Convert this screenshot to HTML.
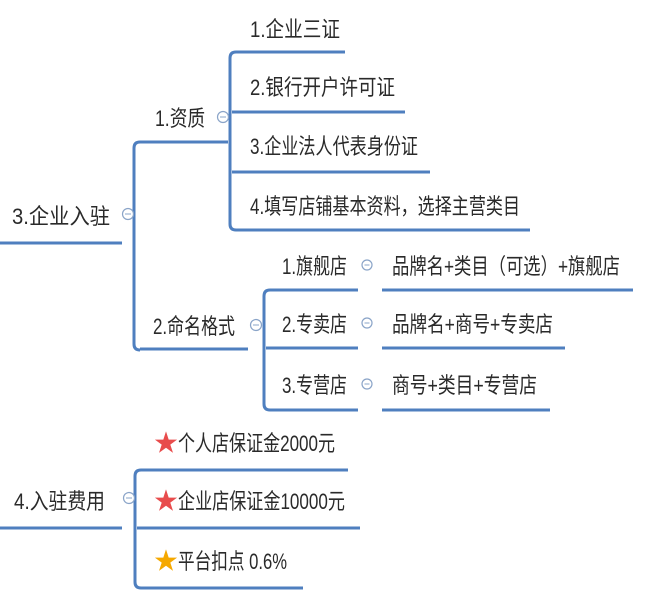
<!DOCTYPE html>
<html><head><meta charset="utf-8"><style>
body{margin:0;background:#fff;}
svg text{font-family:"Liberation Sans","Noto Sans CJK SC",sans-serif;font-size:22px;fill:#2a2a2a;}
</style></head><body>
<svg width="650" height="600" viewBox="0 0 650 600" xmlns="http://www.w3.org/2000/svg">
<g stroke="#4f7fbf" stroke-width="3" fill="none">
<line x1="0" y1="243" x2="122" y2="243"/>
<path d="M140 142 Q134 142 134 148 V344 Q134 350 140 350"/>
<line x1="140" y1="142" x2="228" y2="142"/>
<line x1="140" y1="349" x2="248" y2="349"/>
<path d="M236 52 Q230 52 230 58 V224 Q230 230 236 230"/>
<line x1="236" y1="52" x2="345" y2="52"/>
<line x1="232" y1="112" x2="405" y2="112"/>
<line x1="232" y1="172" x2="430" y2="172"/>
<line x1="236" y1="230" x2="530" y2="230"/>
<path d="M270 290 Q264 290 264 296 V404 Q264 410 270 410"/>
<line x1="270" y1="290" x2="358" y2="290"/><line x1="382" y1="290" x2="633" y2="290"/>
<line x1="266" y1="348" x2="358" y2="348"/><line x1="382" y1="348" x2="565" y2="348"/>
<line x1="270" y1="410" x2="358" y2="410"/><line x1="382" y1="410" x2="550" y2="410"/>
<line x1="0" y1="528" x2="122" y2="528"/>
<path d="M141 470 Q135 470 135 476 V582 Q135 588 141 588"/>
<line x1="141" y1="470" x2="348" y2="470"/>
<line x1="137" y1="528" x2="360" y2="528"/>
<line x1="141" y1="588" x2="303" y2="588"/>
</g>
<g stroke="#8aa4c8" stroke-width="1.2" fill="#fff">
<circle cx="128" cy="214" r="5.5"/><circle cx="223" cy="117" r="5.5"/><circle cx="256" cy="325" r="5.5"/>
<circle cx="367" cy="265" r="5"/><circle cx="367" cy="323" r="5"/><circle cx="367" cy="384" r="5"/>
<circle cx="129" cy="498" r="5.5"/>
</g>
<g stroke="#8aa4c8" stroke-width="1"><line x1="125" y1="214" x2="131" y2="214"/><line x1="220" y1="117" x2="226" y2="117"/><line x1="253" y1="325" x2="259" y2="325"/><line x1="364.5" y1="265" x2="369.5" y2="265"/><line x1="364.5" y1="323" x2="369.5" y2="323"/><line x1="364.5" y1="384" x2="369.5" y2="384"/><line x1="126" y1="498" x2="132" y2="498"/></g>
<g style="font-size:24px">
<text x="12" y="224" textLength="98" lengthAdjust="spacingAndGlyphs">3.企业入驻</text>
<text x="14" y="509" textLength="91" lengthAdjust="spacingAndGlyphs">4.入驻费用</text>
</g>
<text x="155" y="126" textLength="50" lengthAdjust="spacingAndGlyphs">1.资质</text>
<text x="250" y="37" textLength="90" lengthAdjust="spacingAndGlyphs">1.企业三证</text>
<text x="250" y="95" textLength="145" lengthAdjust="spacingAndGlyphs">2.银行开户许可证</text>
<text x="250" y="154" textLength="168" lengthAdjust="spacingAndGlyphs">3.企业法人代表身份证</text>
<text x="250" y="214" textLength="270" lengthAdjust="spacingAndGlyphs">4.填写店铺基本资料，选择主营类目</text>
<text x="153" y="334" textLength="82" lengthAdjust="spacingAndGlyphs">2.命名格式</text>
<text x="282" y="274" textLength="65" lengthAdjust="spacingAndGlyphs">1.旗舰店</text>
<text x="392" y="274" textLength="228" lengthAdjust="spacingAndGlyphs">品牌名+类目（可选）+旗舰店</text>
<text x="282" y="332" textLength="65" lengthAdjust="spacingAndGlyphs">2.专卖店</text>
<text x="392" y="332" textLength="161" lengthAdjust="spacingAndGlyphs">品牌名+商号+专卖店</text>
<text x="282" y="393" textLength="65" lengthAdjust="spacingAndGlyphs">3.专营店</text>
<text x="392" y="393" textLength="145" lengthAdjust="spacingAndGlyphs">商号+类目+专营店</text>
<text x="154" y="451" style="fill:#e84c4c;font-size:24px">★</text>
<text x="178" y="451" textLength="157" lengthAdjust="spacingAndGlyphs">个人店保证金2000元</text>
<text x="154" y="509" style="fill:#e84c4c;font-size:24px">★</text>
<text x="178" y="509" textLength="167" lengthAdjust="spacingAndGlyphs">企业店保证金10000元</text>
<text x="154" y="569" style="fill:#f5a800;font-size:24px">★</text>
<text x="178" y="569" textLength="109" lengthAdjust="spacingAndGlyphs">平台扣点 0.6%</text>
</svg>
</body></html>
